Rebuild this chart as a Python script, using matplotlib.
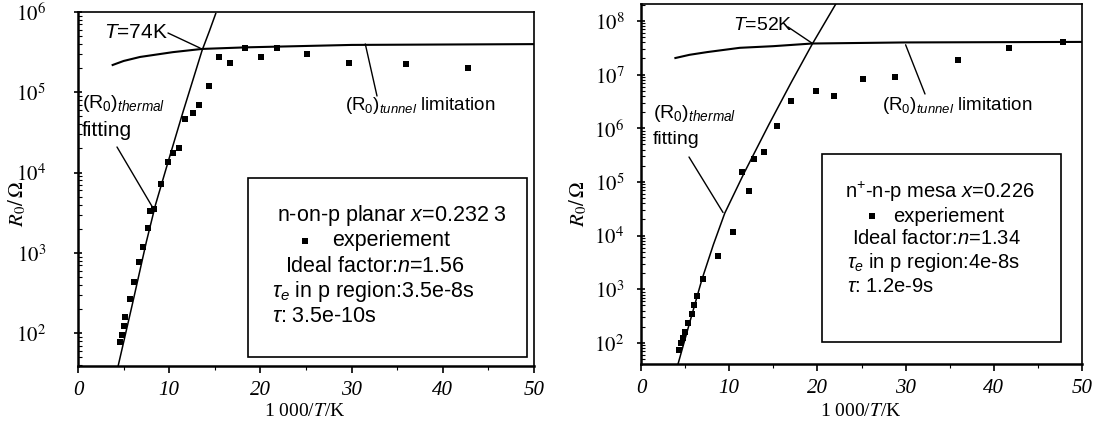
import matplotlib
matplotlib.use("Agg")
import numpy as np
import matplotlib.pyplot as plt
from matplotlib.patches import Rectangle
from matplotlib.lines import Line2D
from matplotlib.ticker import MultipleLocator, LogLocator, NullFormatter

# measured points, left panel (n-on-p planar)
x_exp_left = [4.6, 4.8, 5.0, 5.15, 5.7, 6.1, 6.7, 7.1, 7.7, 7.9, 8.3, 9.1, 9.9, 10.4, 11.1,
              11.7, 12.6, 13.3, 14.4, 15.5, 16.7, 18.3, 20.1, 21.8, 25.1, 29.7, 36.0, 42.8]
r_exp_left = [78, 95, 122, 158, 265, 435, 760, 1200, 2040, 3300, 3500, 7200, 13500, 17500, 20000,
              46000, 55000, 69000, 120000, 275000, 230000, 355000, 275000, 355000, 300000,
              230000, 225000, 200000]
# thermal fit and tunnel limit curves, left panel
x_therm_left = [4.4, 6.0, 7.5, 8.5, 10.0, 11.5, 13.0, 13.6, 14.4, 15.1]
r_therm_left = [39, 240, 1380, 3981, 15136, 56234, 199526, 331131, 575440, 954993]
x_tun_left = [3.8, 5.0, 6.8, 10.4, 13.6, 18.5, 30.0, 50.0]
r_tun_left = [218776, 245470, 275423, 316228, 346737, 363078, 389045, 398107]

# measured points, right panel (n+-n-p mesa)
x_exp_right = [4.3, 4.5, 4.8, 5.0, 5.3, 5.8, 6.0, 6.3, 7.0, 8.7, 10.4, 11.5, 12.2, 12.8, 13.9,
               15.4, 17.0, 19.8, 21.9, 25.2, 28.8, 35.9, 41.7, 47.8]
r_exp_right = [74, 100, 125, 163, 240, 340, 515, 760, 1580, 4200, 11700, 155000, 68000, 270000,
               365000, 1.1e6, 3.2e6, 5.0e6, 4.0e6, 8.3e6, 9.1e6, 1.9e7, 3.2e7, 4.1e7]
x_therm_right = [4.2, 5.5, 6.9, 8.2, 9.5, 11.7, 14.5, 17.0, 19.4, 22.1]
r_therm_right = [40.7, 234, 1514, 6761, 26303, 147911, 1.175e6, 7.0e6, 3.67e7, 2.09e8]
x_tun_right = [3.9, 5.5, 7.5, 11.2, 15.0, 19.4, 30.0, 50.0]
r_tun_right = [2.04e7, 2.34e7, 2.63e7, 3.16e7, 3.39e7, 3.80e7, 3.98e7, 4.07e7]

x_ticks = [0, 10, 20, 30, 40, 50]

W, H = 1103, 429
plt.rcParams['font.family'] = ['Liberation Sans', 'DejaVu Sans']
plt.rcParams['mathtext.fontset'] = 'custom'
plt.rcParams['mathtext.rm'] = 'Liberation Sans'
plt.rcParams['mathtext.it'] = 'Liberation Sans:italic'
plt.rcParams['mathtext.bf'] = 'Liberation Sans:bold'
plt.rcParams['xtick.labelsize'] = 15
plt.rcParams['ytick.labelsize'] = 15

fig = plt.figure(figsize=(W / 100, H / 100), dpi=100)


def px(x, y):
    return x / W, 1 - y / H


def make_axes(l, t, r, b, ylim, decades, ypad):
    ax = fig.add_axes([l / W, 1 - b / H, (r - l) / W, (b - t) / H])
    ax.set_yscale('log')
    ax.set_xlim(0, 50)
    ax.set_ylim(*ylim)
    ax.set_xticks(x_ticks, labels=[str(v) for v in x_ticks])
    ax.xaxis.set_minor_locator(MultipleLocator(5))
    ax.set_yticks([10.0 ** d for d in decades], labels=[rf'$10^{{{d}}}$' for d in decades])
    ax.yaxis.set_minor_locator(LogLocator(base=10, subs=np.arange(2, 10), numticks=30))
    ax.yaxis.set_minor_formatter(NullFormatter())
    ax.tick_params(axis='y', which='major', direction='inout', length=6, width=1.2, pad=ypad)
    ax.tick_params(axis='y', which='minor', direction='in', length=3, width=0.8)
    ax.tick_params(axis='x', which='major', direction='out', length=5, width=1.2, pad=6)
    ax.tick_params(axis='x', which='minor', direction='out', length=3, width=0.8)
    ax.spines['left'].set_linewidth(1.8)
    ax.spines['bottom'].set_linewidth(1.8)
    ax.spines['top'].set_linewidth(1.2)
    ax.spines['right'].set_linewidth(1.2)
    return ax


ax1 = make_axes(78, 12, 534, 366, (39, 1e6), [2, 3, 4, 5, 6], 20)
ax2 = make_axes(641, 4, 1082, 364, (40.6, 2.07e8), [2, 3, 4, 5, 6, 7, 8], 9)

for ax, xt, rt, xu, ru, xe, re in [
        (ax1, x_therm_left, r_therm_left, x_tun_left, r_tun_left, x_exp_left, r_exp_left),
        (ax2, x_therm_right, r_therm_right, x_tun_right, r_tun_right, x_exp_right, r_exp_right)]:
    ax.plot(xt, rt, '-', color='k', lw=1.1)
    ax.plot(xu, ru, '-', color='k', lw=1.5)
    ax.plot(xe, re, 's', color='k', ms=4, mew=0)


def line_to(ax, xy, start):
    ax.annotate('', xy=xy, xycoords='data', xytext=(start[0], H - start[1]),
                textcoords='figure pixels',
                arrowprops=dict(arrowstyle='-', color='k', lw=1.0, shrinkA=0, shrinkB=0))


def label(x, y, s, fs, **kw):
    fig.text(*px(x, y), s, fontsize=fs, va='center', ha='left', **kw)


# left panel annotations
label(104, 32, r'$\mathit{T}$=74K', 15)
line_to(ax1, (13.4, 3.55e5), (168, 33))
label(82, 103, r'$(\mathrm{R}_{\mathit{0}})_{\mathit{thermal}}$', 14)
label(82, 130, 'fitting', 15)
line_to(ax1, (8.3, 3500), (117, 147))
label(345, 105, r'$(\mathrm{R}_{\mathit{0}})_{\mathit{tunnel}}$ limitation', 13.5)
line_to(ax1, (31.5, 4.0e5), (377, 96))

# right panel annotations
label(733, 25, r'$\mathit{T}$=52K', 14)
line_to(ax2, (19.4, 3.85e7), (788, 27))
label(653, 113, r'$(\mathrm{R}_{\mathit{0}})_{\mathit{thermal}}$', 14)
label(653, 139, 'fitting', 14)
line_to(ax2, (9.3, 2.7e4), (689, 157))
label(882, 106, r'$(\mathrm{R}_{\mathit{0}})_{\mathit{tunnel}}$ limitation', 13.5)
line_to(ax2, (30.0, 3.6e7), (925, 94))

# info boxes
for (l, t, r, b) in [(248, 178, 527, 357), (822, 154, 1061, 342)]:
    fig.add_artist(Rectangle(px(l, b), (r - l) / W, (b - t) / H, transform=fig.transFigure,
                             fill=False, edgecolor='k', lw=1.2))

left_box = [(277, 215, r'n-on-p planar $\mathit{x}$=0.232 3'),
            (285, 267, r'Ideal factor:$\mathit{n}$=1.56'),
            (272, 292, r'$\tau_{e}$ in p region:3.5e-8s'),
            (272, 317, r'$\tau$: 3.5e-10s')]
right_box = [(845, 192, r'n$^{+}$-n-p mesa $\mathit{x}$=0.226'),
             (852, 239, r'Ideal factor:$\mathit{n}$=1.34'),
             (847, 263, r'$\tau_{e}$ in p region:4e-8s'),
             (847, 287, r'$\tau$: 1.2e-9s')]
for x, y, s in left_box:
    label(x, y, s, 15.5)
for x, y, s in right_box:
    label(x, y, s, 14.5)
label(332, 241, 'experiement', 15.5)
label(893, 216, 'experiement', 14.5)
for mx, my in [(305, 241), (872, 216)]:
    fig.add_artist(Line2D([mx / W], [1 - my / H], marker='s', ms=4, mew=0, color='k',
                          transform=fig.transFigure))

# axis titles
for cx in [305, 861]:
    fig.text(*px(cx, 412), r'1 000/$T$/K', fontsize=14, ha='center', va='center',
             fontfamily='Liberation Serif', math_fontfamily='stix')
for cx in [17, 578]:
    fig.text(*px(cx, 204), r'$R_{0}/\,\Omega$', fontsize=15, ha='center', va='center',
             rotation=90, math_fontfamily='stix')

# serif tick labels (italic numbers on x)
for ax in (ax1, ax2):
    for lbl in ax.get_yticklabels():
        lbl.set_math_fontfamily('stix')
    for lbl in ax.get_xticklabels():
        lbl.set_fontfamily('Liberation Serif')
        lbl.set_fontstyle('italic')

fig.savefig('out.png', dpi=100)
